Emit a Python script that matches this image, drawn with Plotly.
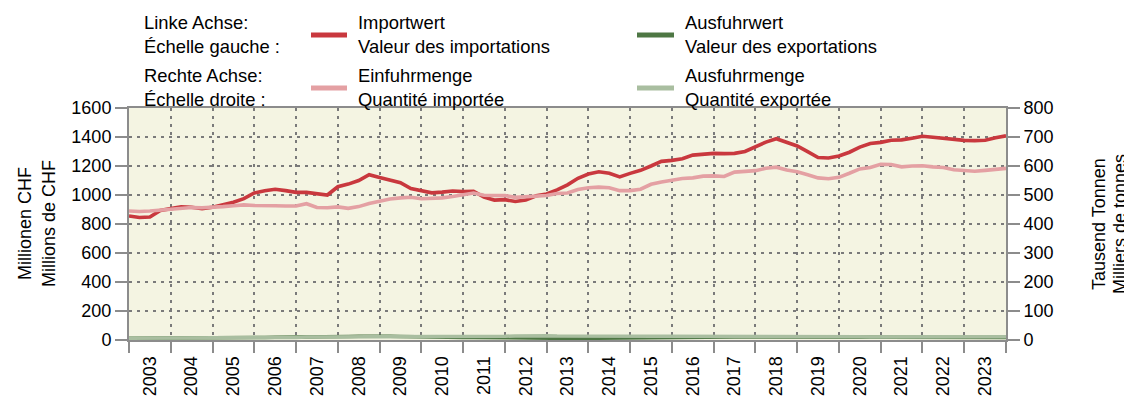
import plotly.graph_objects as go

# ---- Data (quarterly points, decimal years) ----
years = list(range(2003, 2024))
quarters = [2003 + 0.25 * i for i in range(85)]

# Importwert, Mio CHF (left axis)
importwert = [
    855, 845, 848, 893,
    906, 918, 915, 905,
    915, 930, 950, 975,
    1014, 1030, 1040, 1030,
    1018, 1018, 1008, 1000,
    1057, 1075, 1100, 1140,
    1120, 1105, 1085, 1044,
    1028, 1015, 1020, 1028,
    1023, 1026, 985, 965,
    968, 955, 965, 995,
    1007, 1035, 1070, 1115,
    1145, 1160, 1150, 1125,
    1149, 1170, 1200, 1232,
    1239, 1250, 1275, 1283,
    1287, 1285, 1287, 1300,
    1330, 1365, 1388, 1365,
    1338, 1299, 1258, 1255,
    1269, 1295, 1330, 1355,
    1363, 1378, 1380, 1392,
    1405, 1398, 1392, 1380,
    1377, 1375, 1378, 1395,
    1408,
]

# Ausfuhrwert, Mio CHF (left axis)
ausfuhrwert = [
    12, 12, 13, 13,
    14, 15, 16, 16,
    16, 17, 17, 18,
    18, 18, 19, 19,
    20, 21, 21, 22,
    22, 24, 26, 27,
    26, 25, 24, 22,
    20, 19, 18, 18,
    17, 17, 16, 15,
    13, 11, 10, 10,
    9, 10, 11, 11,
    12, 12, 12, 13,
    13, 14, 14, 15,
    15, 16, 17, 17,
    18, 19, 20, 20,
    20, 21, 20, 19,
    19, 18, 17, 16,
    16, 15, 15, 15,
    15, 15, 16, 16,
    16, 16, 16, 17,
    17, 17, 18, 18,
    18,
]

# Einfuhrmenge, Tausend Tonnen (right axis)
einfuhrmenge = [
    445, 443, 445, 448,
    450, 456, 457, 456,
    457, 460, 463, 466,
    464, 462, 463, 462,
    462, 470, 457, 456,
    459, 454, 460, 471,
    480, 486, 490, 492,
    487, 488, 490, 495,
    500, 507, 499, 498,
    498, 492, 495, 497,
    498, 505, 507, 519,
    525, 527, 525, 515,
    515, 520, 537, 545,
    551, 557, 559, 565,
    566, 564, 579, 581,
    584, 592, 596, 586,
    580, 570, 559, 556,
    561, 575, 590, 595,
    606, 605, 597, 600,
    601, 597, 595, 587,
    586, 582, 585, 590,
    592,
]

# Ausfuhrmenge, Tausend Tonnen (right axis)
ausfuhrmenge = [
    6, 6, 6, 7,
    7, 7, 7, 8,
    8, 8, 8, 8,
    8, 9, 9, 9,
    9, 10, 10, 10,
    10, 11, 12, 13,
    13, 12, 12, 11,
    11, 11, 10, 10,
    10, 10, 11, 12,
    13, 14, 15, 15,
    15, 14, 14, 13,
    13, 12, 12, 12,
    12, 12, 13, 13,
    13, 13, 14, 14,
    13, 13, 13, 12,
    12, 13, 13, 13,
    13, 13, 12, 12,
    11, 11, 11, 10,
    10, 10, 10, 10,
    10, 10, 10, 10,
    11, 11, 11, 11,
    11,
]

left_ticks = [0, 200, 400, 600, 800, 1000, 1200, 1400, 1600]
right_ticks = [0, 100, 200, 300, 400, 500, 600, 700, 800]

C_IMP = "#C9383E"
C_EXP = "#4E7744"
C_IMQ = "#E4A0A3"
C_EXQ = "#A9BEA0"
GRID = "#7a7a7a"
AXIS = "#8c8c8c"
FONT = "Liberation Sans, Arial, sans-serif"

fig = go.Figure()
fig.add_trace(go.Scatter(x=quarters, y=ausfuhrwert, mode="lines",
                         line=dict(color=C_EXP, width=3.5), yaxis="y", showlegend=False))
fig.add_trace(go.Scatter(x=quarters, y=importwert, mode="lines",
                         line=dict(color=C_IMP, width=3.6), yaxis="y", showlegend=False))
fig.add_trace(go.Scatter(x=quarters, y=ausfuhrmenge, mode="lines",
                         line=dict(color=C_EXQ, width=3.5), yaxis="y2", showlegend=False))
fig.add_trace(go.Scatter(x=quarters, y=einfuhrmenge, mode="lines",
                         line=dict(color=C_IMQ, width=3.6), yaxis="y2", showlegend=False))

# page is rendered with an 8px body margin -> offset layout accordingly
OFF = 8
PAGE_W, PAGE_H = 1132, 400
W, H = PAGE_W - OFF, PAGE_H - OFF
# plot area in page pixels: x 129..1006, y 108..340
L = 129 - OFF
T = 108 - OFF
R = W - (1006 - OFF)
B = H - (340 - OFF)
pw, ph = W - L - R, H - T - B


def px(x):  # page x -> paper
    return (x - OFF - L) / pw


def py(y):  # page y -> paper
    return (H - B - (y - OFF)) / ph


fig.update_layout(
    width=W, height=H,
    margin=dict(l=L, r=R, t=T, b=B, autoexpand=False),
    paper_bgcolor="white",
    plot_bgcolor="#F4F4E2",
    font=dict(family=FONT, size=18, color="black"),
    xaxis=dict(
        range=[2003, 2024],
        tickmode="array",
        tickvals=[y + 0.5 for y in years],
        ticktext=[str(y) for y in years],
        tickangle=-90,
        ticks="outside", ticklen=7, tickcolor="rgba(0,0,0,0)",
        showgrid=False,
        showline=True, linecolor=AXIS, linewidth=2, mirror=True,
        zeroline=False,
        minor=dict(
            tickmode="array",
            tickvals=list(range(2003, 2025)),
            ticks="outside", ticklen=11, tickwidth=2, tickcolor=AXIS,
            showgrid=True, gridcolor=GRID, gridwidth=1.5, griddash="3px,5px",
        ),
        tickfont=dict(size=18),
    ),
    yaxis=dict(
        range=[0, 1600],
        tickmode="array", tickvals=left_ticks,
        ticks="outside", ticklen=12, tickwidth=2, tickcolor=AXIS,
        showline=True, linecolor=AXIS, linewidth=2,
        showgrid=True, gridcolor=GRID, gridwidth=1.5, griddash="3px,5px",
        zeroline=False,
        tickfont=dict(size=18),
    ),
    yaxis2=dict(
        range=[0, 800], overlaying="y", side="right",
        tickmode="array", tickvals=right_ticks,
        ticks="outside", ticklen=12, tickwidth=2, tickcolor=AXIS,
        showline=True, linecolor=AXIS, linewidth=2,
        showgrid=False, zeroline=False,
        tickfont=dict(size=18),
    ),
)

ann = []
# axis titles
for xx, txt in [(25, "Millionen CHF"), (49, "Millions de CHF"),
                (1099, "Tausend Tonnen"), (1120, "Milliers de tonnes")]:
    ann.append(dict(x=px(xx), y=py(224), xref="paper", yref="paper", text=txt,
                    textangle=-90, showarrow=False, xanchor="center", yanchor="middle",
                    borderpad=0, font=dict(size=18)))

# legend texts
legend_texts = [
    (142, 34.5, "Linke Achse:<br>Échelle gauche :"),
    (142, 87.5, "Rechte Achse:<br>Échelle droite :"),
    (356, 34.5, "Importwert<br>Valeur des importations"),
    (356, 87.5, "Einfuhrmenge<br>Quantité importée"),
    (683, 34.5, "Ausfuhrwert<br>Valeur des exportations"),
    (683, 87.5, "Ausfuhrmenge<br>Quantité exportée"),
]
for xx, yy, txt in legend_texts:
    ann.append(dict(x=px(xx), y=py(yy), xref="paper", yref="paper", text=txt,
                    showarrow=False, xanchor="left", yanchor="middle", align="left",
                    font=dict(size=18.4)))
fig.update_layout(annotations=ann)

shapes = []
for x0, x1, yy, col in [(311, 347, 35, C_IMP), (311, 347, 88, C_IMQ),
                        (637, 674, 35, C_EXP), (637, 674, 88, C_EXQ)]:
    shapes.append(dict(type="line", xref="paper", yref="paper",
                       x0=px(x0), x1=px(x1), y0=py(yy), y1=py(yy),
                       line=dict(color=col, width=5)))
fig.update_layout(shapes=shapes)

fig.write_html("out.html")
